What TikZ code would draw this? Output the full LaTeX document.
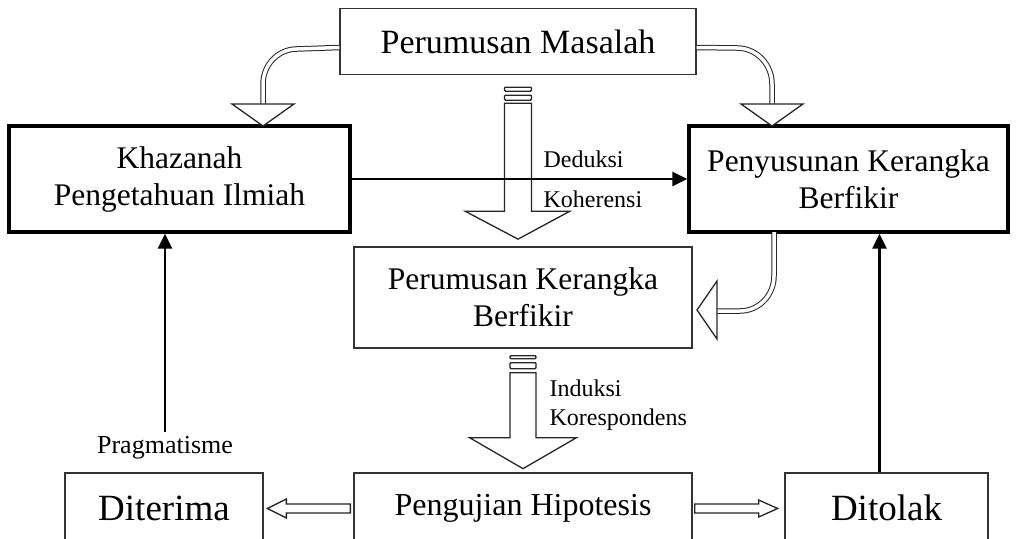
\documentclass[tikz,border=0pt]{standalone}
\usepackage{fontspec}
\setmainfont{Liberation Serif}
\usetikzlibrary{arrows.meta}

\begin{document}
\begin{tikzpicture}[x=1pt,y=-1pt,
      box/.style={draw=black!80,line width=1.3pt,align=center,inner sep=0pt},
      thickbox/.style={draw=black,line width=3.3pt,align=center,inner sep=0pt},
      hollow/.style={draw=black!85,line width=1.3pt,fill=white},
      pipe/.style={draw=black!85,double=white,double distance=3.5pt,line width=1pt},
      link/.style={-{Triangle[length=15pt,width=14pt]},line width=2.5pt},
      big/.style={font=\fontsize{37}{42}\selectfont},
      mid/.style={font=\fontsize{31.5}{37}\selectfont},
      small/.style={font=\fontsize{24}{28}\selectfont}]
    \clip (0,0) rectangle (1016,538);
    \node[box,font=\fontsize{34}{40}\selectfont,minimum width=356pt,minimum height=66pt] (masalah) at (518,41.5) {Perumusan Masalah};
    \node[thickbox,mid,minimum width=341pt,minimum height=106pt] (khazanah) at (179.5,179) {Khazanah\\Pengetahuan Ilmiah};
    \node[thickbox,mid,minimum width=319pt,minimum height=106pt] (penyusunan) at (848.5,179) {Penyusunan Kerangka\\Berfikir};
    \node[box,mid,minimum width=338pt,minimum height=101pt] (kerangka) at (523,297.5) {Perumusan Kerangka\\Berfikir};
    \node[box,font=\fontsize{32}{36}\selectfont,minimum width=338pt,minimum height=70pt] (pengujian) at (523,508) {Pengujian Hipotesis};
    \node[box,big,minimum width=198pt,minimum height=70pt] (diterima) at (164,508) {Diterima};
    \node[box,big,minimum width=203pt,minimum height=70pt] (ditolak) at (886.5,508) {Ditolak};
    \node[small,anchor=base west] (deduksi) at (540,167) {Deduksi};
    \node[small,anchor=base west] (koherensi) at (540,207) {Koherensi};
    \node[small,anchor=base west] (induksi) at (546,396) {Induksi};
    \node[small,anchor=base west] (korespondens) at (546,425) {Korespondens};
    \node[font=\fontsize{26}{30}\selectfont,anchor=base] (pragmatisme) at (165,453) {Pragmatisme};
    \coordinate (khz_in) at (263,126);
    \coordinate (pny_in) at (772,126);
    \coordinate (pny_out) at (774,232);
    \coordinate (krg_in) at (697,310);

    \draw[hollow,rounded corners=1pt,shift={(masalah.south)}] (-13.5,12) rectangle (13.5,16) (-13.5,20) rectangle (13.5,25);
    \draw[hollow,shift={(masalah.south)}] (-13.5,28) -- (-13.5,136) -- (-53,136) -- (0,164) -- (52,136) -- (13.5,136) -- (13.5,28) -- cycle;
    \draw[hollow,rounded corners=1pt,shift={(kerangka.south)}] (-13,7) rectangle (13,10) (-13,14) rectangle (13,20);
    \draw[hollow,shift={(kerangka.south)}] (-13,24) -- (-13,89) -- (-53.5,89) -- (0,120) -- (53.5,89) -- (13,89) -- (13,24) -- cycle;

    \draw[pipe] ([yshift=-6pt]masalah.west) -- (297,49) to[out=180,in=90] (263,84) -- (263,104);
    \draw[hollow] (232,104) -- (294,104) -- (khz_in) -- cycle;
    \draw[pipe] ([yshift=-6pt]masalah.east) -- (737,48) to[out=0,in=90] (772,84) -- (772,104);
    \draw[hollow] (741,104) -- (803,104) -- (pny_in) -- cycle;
    \draw[pipe] (pny_out) -- (774,276) to[out=-90,in=0] (740,311) -- (716,311);
    \draw[hollow] (717,281) -- (717,339) -- (krg_in) -- cycle;

    \draw[hollow,shift={(pengujian.west)}] (-3,-4) -- (-67,-4) -- (-67,-9) -- (-86,0.5) -- (-67,10) -- (-67,5) -- (-3,5) -- cycle;
    \draw[hollow,shift={(pengujian.east)}] (2,-4) -- (66,-4) -- (66,-8) -- (85,0.5) -- (66,9) -- (66,5) -- (2,5) -- cycle;

    \draw[link] (khazanah) -- (penyusunan);
    \draw[link] (pragmatisme.north) -- (pragmatisme.north |- khazanah.south);
    \draw[link] ([xshift=-7pt]ditolak.north) -- ([xshift=-7pt]ditolak.north |- penyusunan.south);
\end{tikzpicture}
\end{document}
